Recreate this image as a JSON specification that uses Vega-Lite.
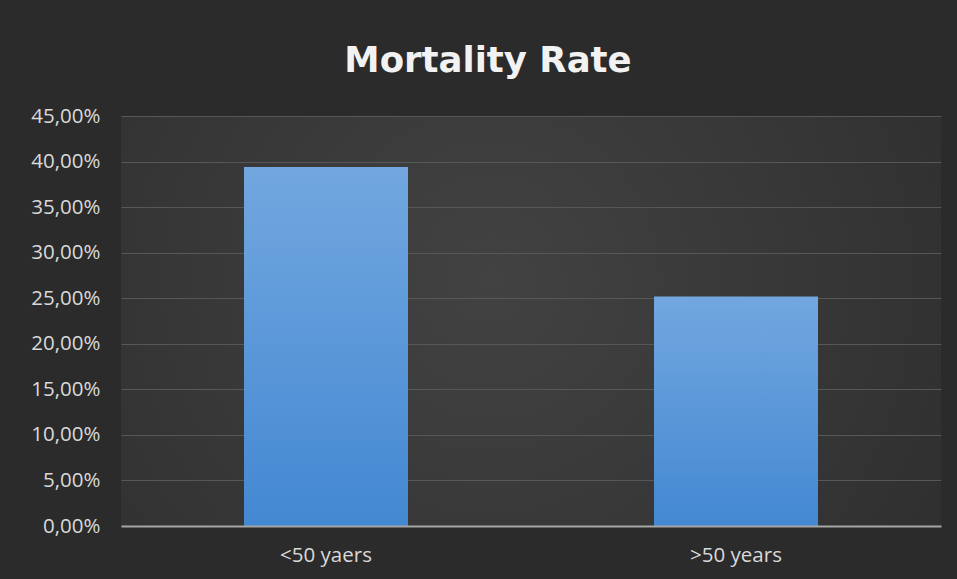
{
  "$schema": "https://vega.github.io/schema/vega-lite/v6.json",
  "width": 820,
  "height": 410,
  "autosize": {"type": "none"},
  "padding": {"left": 121, "top": 116, "right": 16, "bottom": 53},
  "background": "#2b2b2b",
  "title": {
    "text": "Mortality Rate",
    "font": "DejaVu Sans",
    "fontSize": 35.5,
    "fontWeight": "bold",
    "color": "#f2f2f2",
    "anchor": "middle",
    "dx": -43,
    "offset": 27
  },
  "data": {
    "values": [
      {"group": "<50 yaers", "rate": 0.394},
      {"group": ">50 years", "rate": 0.252}
    ]
  },
  "mark": {
    "type": "bar",
    "fill": {
      "gradient": "linear",
      "x1": 0, "y1": 0, "x2": 0, "y2": 1,
      "stops": [
        {"offset": 0, "color": "#72a7df"},
        {"offset": 1, "color": "#4388d2"}
      ]
    }
  },
  "encoding": {
    "x": {
      "field": "group",
      "type": "nominal",
      "sort": null,
      "scale": {"paddingInner": 0.6, "paddingOuter": 0.3},
      "axis": {
        "title": null,
        "labelAngle": 0,
        "labelFont": "Open Sans",
        "labelFontSize": 20.5,
        "labelColor": "#d9d9d9",
        "ticks": false,
        "domainColor": "#a6a6a6",
        "domainWidth": 2,
        "labelPadding": 19,
        "zindex": 1
      }
    },
    "y": {
      "field": "rate",
      "type": "quantitative",
      "scale": {"domain": [0, 0.45]},
      "axis": {
        "title": null,
        "values": [0, 0.05, 0.1, 0.15, 0.2, 0.25, 0.3, 0.35, 0.4, 0.45],
        "labelExpr": "replace(format(datum.value, '.2%'), '.', ',')",
        "labelFont": "Open Sans",
        "labelFontSize": 20.5,
        "labelColor": "#d9d9d9",
        "labelPadding": 21,
        "ticks": false,
        "domain": false,
        "grid": true,
        "gridColor": "#575757",
        "gridWidth": 1
      }
    }
  },
  "config": {
    "view": {
      "stroke": null,
      "fill": {
        "gradient": "radial",
        "x1": 0.45, "y1": 0.45, "r1": 0,
        "x2": 0.45, "y2": 0.45, "r2": 0.75,
        "stops": [
          {"offset": 0, "color": "#424242"},
          {"offset": 1, "color": "#2c2c2c"}
        ]
      }
    }
  }
}
